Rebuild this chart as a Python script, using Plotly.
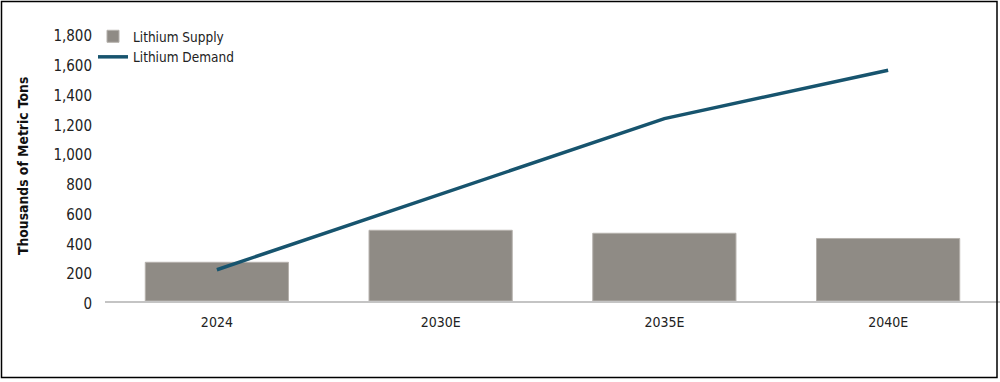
import plotly.graph_objects as go

categories = ["2024", "2030E", "2035E", "2040E"]
supply = [260, 475, 455, 420]
demand = [210, 715, 1225, 1550]
y_ticks = [0, 200, 400, 600, 800, 1000, 1200, 1400, 1600, 1800]
y_ticktext = ["0", "200", "400", "600", "800", "1,000", "1,200", "1,400", "1,600", "1,800"]

FONT = "DejaVu Sans Condensed, sans-serif"

W, H = 1000, 382
L, R, T, B = 105, 0, 33, 81
pw, ph = W - L - R, H - T - B

def px_x(px):
    return (px - L) / pw

def px_y(py):
    return (H - B - py) / ph

fig = go.Figure()
fig.add_trace(go.Bar(
    x=categories, y=supply, name="Lithium Supply", width=0.64,
    marker=dict(color="#8F8B85", line=dict(color="#B5B1AC", width=1)),
))
fig.add_trace(go.Scatter(
    x=categories, y=demand, name="Lithium Demand", mode="lines",
    line=dict(color="#17546E", width=3.5),
))

fig.update_layout(
    width=W, height=H,
    margin=dict(l=L, r=R, t=T, b=B, pad=0),
    paper_bgcolor="white", plot_bgcolor="white",
    font=dict(family=FONT, color="#222222", size=14),
    showlegend=True,
    legend=dict(
        x=px_x(93), y=px_y(21), xanchor="left", yanchor="top",
        bgcolor="rgba(0,0,0,0)", font=dict(size=13.5, color="#222222"),
        traceorder="normal", tracegroupgap=0,
    ),
    xaxis=dict(
        range=[-0.5, 3.5], showgrid=False, zeroline=False,
        showline=True, linecolor="#C4C4C4", linewidth=2,
        ticks="", tickfont=dict(size=14, color="#222222"),
        ticklabelstandoff=7,
    ),
    yaxis=dict(
        range=[0, 1800], tickvals=y_ticks, ticktext=y_ticktext,
        showgrid=False, zeroline=False, showline=False, ticks="",
        tickfont=dict(size=15, color="#222222"), ticklabelstandoff=12,
        ticklabelshift=3,
    ),
    annotations=[dict(
        text="<b>Thousands of Metric Tons</b>", textangle=-90,
        xref="paper", yref="paper", x=px_x(23), y=px_y(166),
        xanchor="center", yanchor="middle", showarrow=False,
        font=dict(size=13.8, color="#111111", family=FONT),
    )],
    shapes=[dict(
        type="rect", xref="paper", yref="paper",
        x0=px_x(1.5), x1=px_x(997), y0=px_y(377.5), y1=px_y(1.5),
        line=dict(color="black", width=1.5), fillcolor="rgba(0,0,0,0)",
    )],
)

fig.write_html(
    "out.html",
    config={"displayModeBar": False},
    post_script="document.body.style.margin='0';document.body.style.padding='0';",
)
